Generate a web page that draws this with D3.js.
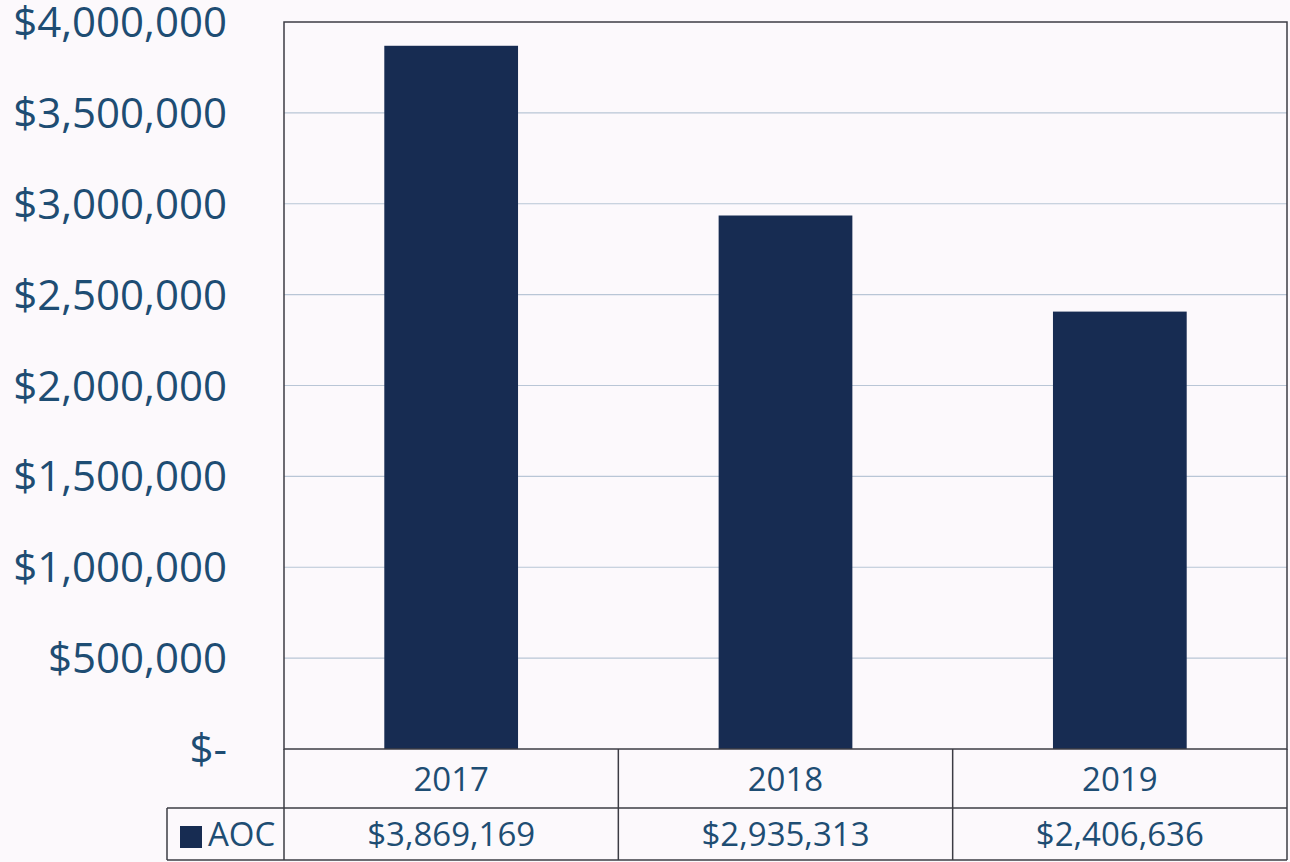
<!DOCTYPE html>
<html>
<head>
    <title>AOC</title>
    <script src="https://cdn.jsdelivr.net/npm/d3@7"></script>
    <style>
        body { margin: 0; background: #fcf9fc; }
    </style>
</head>
<body>
    <svg width="1290" height="862" id="mainsvg"></svg>
    <script>
        // data
        const years = ['2017', '2018', '2019'];
        const aoc = [3869169, 2935313, 2406636];
        const seriesName = 'AOC';
        const yTicks = [0, 500000, 1000000, 1500000, 2000000, 2500000, 3000000, 3500000, 4000000];

        const svg = d3.select('#mainsvg');
        const textColor = '#1e4d73';
        const barColor = '#172c52';
        const lineColor = '#3c3c44';

        const plotLeft = 284, plotRight = 1287, plotTop = 22, plotBottom = 749;
        const row1 = 808, row2 = 860, legendLeft = 167;

        const x = d3.scaleBand().domain(years).range([plotLeft, plotRight]).paddingInner(0.6).paddingOuter(0.3);
        const xCell = d3.scaleBand().domain(years).range([plotLeft, plotRight]);
        const y = d3.scaleLinear().domain([0, 4000000]).range([plotBottom, plotTop]);

        const fmt = v => v === 0 ? '$-' : '$' + d3.format(',')(v);

        // gridlines
        svg.append('g').selectAll('line').data(yTicks.filter(d => d > 0 && d < 4000000)).join('line')
            .attr('x1', plotLeft).attr('x2', plotRight)
            .attr('y1', d => y(d)).attr('y2', d => y(d))
            .attr('stroke', '#b9c6d6').attr('stroke-width', 1.2);

        // bars
        svg.append('g').selectAll('rect').data(aoc).join('rect')
            .attr('x', (d, i) => x(years[i]))
            .attr('width', x.bandwidth())
            .attr('y', d => y(d))
            .attr('height', d => y(0) - y(d))
            .attr('fill', barColor);

        // plot frame
        svg.append('rect')
            .attr('x', plotLeft).attr('y', plotTop)
            .attr('width', plotRight - plotLeft).attr('height', plotBottom - plotTop)
            .attr('fill', 'none').attr('stroke', lineColor).attr('stroke-width', 1.5);

        // y tick labels
        svg.append('g').selectAll('text').data(yTicks).join('text')
            .attr('x', 227)
            .attr('y', d => y(d))
            .attr('dy', '0.36em')
            .attr('text-anchor', 'end')
            .attr('font-family', 'Open Sans, sans-serif')
            .attr('font-size', 42)
            .attr('fill', textColor)
            .text(fmt);

        // data table
        const tbl = svg.append('g').attr('stroke', lineColor).attr('stroke-width', 1.5);
        tbl.append('line').attr('x1', plotLeft).attr('x2', plotRight).attr('y1', row1).attr('y2', row1);
        tbl.append('line').attr('x1', legendLeft).attr('x2', plotLeft).attr('y1', row1).attr('y2', row1);
        tbl.append('line').attr('x1', legendLeft).attr('x2', plotRight).attr('y1', row2).attr('y2', row2);
        tbl.append('line').attr('x1', legendLeft).attr('x2', legendLeft).attr('y1', row1).attr('y2', row2);
        tbl.append('line').attr('x1', plotLeft).attr('x2', plotLeft).attr('y1', plotBottom).attr('y2', row2);
        tbl.append('line').attr('x1', plotRight).attr('x2', plotRight).attr('y1', plotBottom).attr('y2', row2);
        tbl.selectAll('.sep').data(years.slice(1)).join('line')
            .attr('x1', d => xCell(d)).attr('x2', d => xCell(d))
            .attr('y1', plotBottom).attr('y2', row2);

        const cellText = svg.append('g')
            .attr('font-family', 'Open Sans, sans-serif')
            .attr('font-size', 33)
            .attr('fill', textColor)
            .attr('text-anchor', 'middle');

        cellText.selectAll('.yr').data(years).join('text')
            .attr('x', d => xCell(d) + xCell.bandwidth() / 2)
            .attr('y', (plotBottom + row1) / 2)
            .attr('dy', '0.37em')
            .text(d => d);

        cellText.selectAll('.val').data(aoc).join('text')
            .attr('x', (d, i) => xCell(years[i]) + xCell.bandwidth() / 2)
            .attr('y', (row1 + row2) / 2)
            .attr('dy', '0.37em')
            .text(fmt);

        // legend key
        svg.append('rect')
            .attr('x', 180).attr('y', 826).attr('width', 22).attr('height', 22)
            .attr('fill', barColor);
        svg.append('text')
            .attr('x', 208).attr('y', (row1 + row2) / 2).attr('dy', '0.37em')
            .attr('font-family', 'Open Sans, sans-serif')
            .attr('font-size', 33)
            .attr('fill', textColor)
            .text(seriesName);
    </script>
</body>
</html>
